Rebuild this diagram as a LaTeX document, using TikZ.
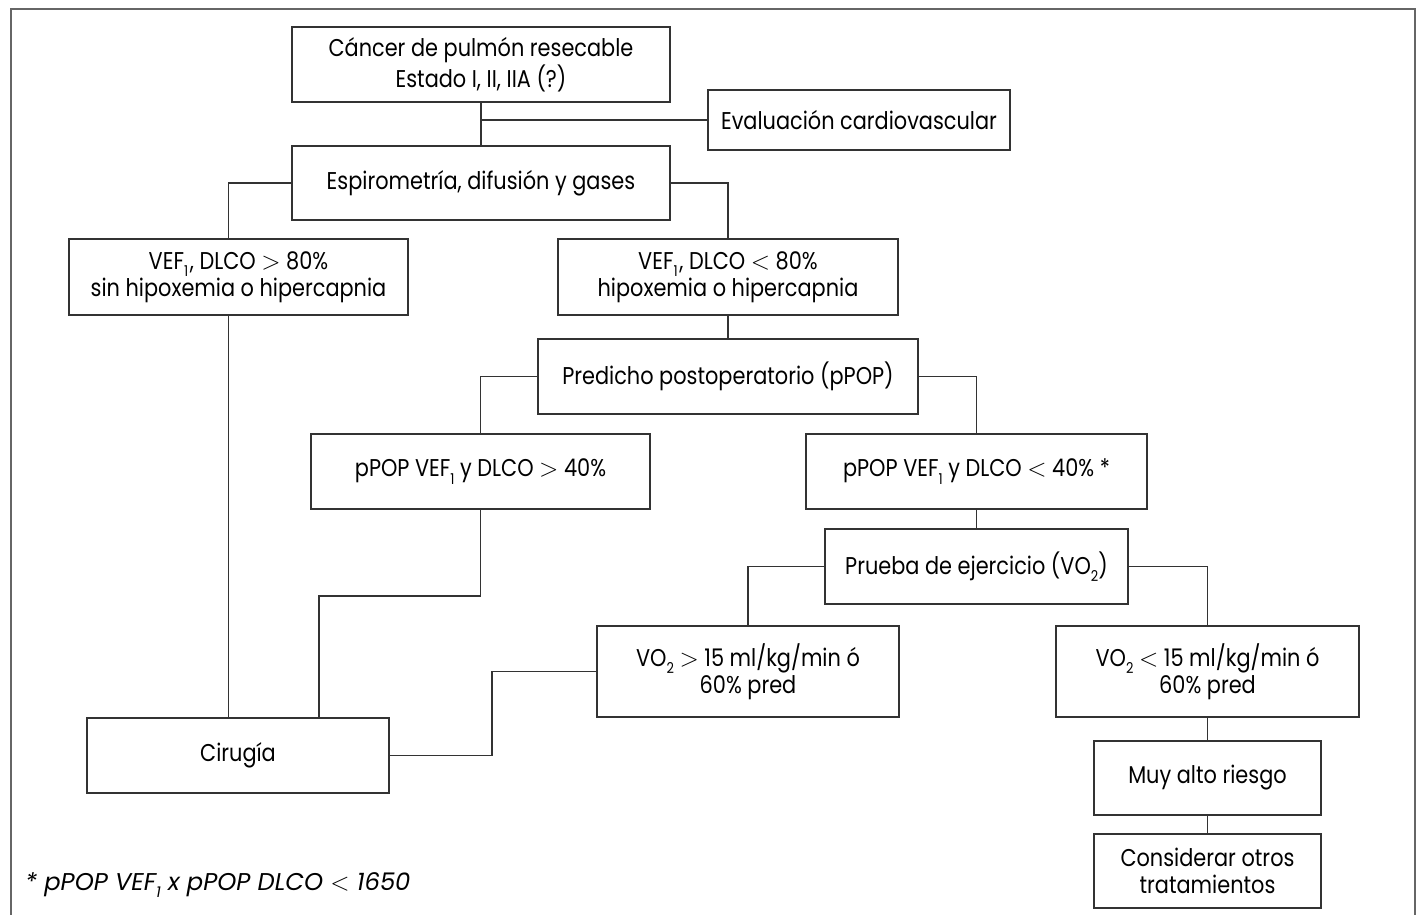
\documentclass[tikz,border=0pt]{standalone}
\usepackage{fontspec}
\setmainfont{Poppins}[FakeStretch=0.86]
\newfontfamily\notafont{Poppins}
\newcommand{\bajo}[1]{\raisebox{-0.55ex}{\fontsize{8.5}{8.5}\selectfont #1}}

\begin{document}
\begin{tikzpicture}[x=0.02cm,y=-0.02cm]
      \tikzstyle{caja}=[draw=black!80,line width=0.8pt,align=center,inner sep=0pt,
        font=\fontsize{13.8}{15.4}\selectfont]
      \tikzstyle{linea}=[draw=black!80,line width=0.8pt]
      \useasboundingbox (0,0) rectangle (1418,914);
      \draw[black!60,line width=0.9pt] (11,930) -- (11,9) -- (1415,9) -- (1415,930);
      \node[caja,minimum width=7.56cm,minimum height=1.5cm] (cancer) at (481,64.5) {C\'ancer de pulm\'on resecable\\Estado I, II, IIA (?)};
      \node[caja,minimum width=6.04cm,minimum height=1.2cm] (evalcv) at (859,120) {Evaluaci\'on cardiovascular};
      \node[caja,minimum width=7.56cm,minimum height=1.48cm] (espiro) at (481,183) {Espirometr\'ia, difusi\'on y gases};
      \node[caja,minimum width=6.78cm,minimum height=1.52cm] (vefalto) at (238.5,277) {VEF\bajo{1}\kern1pt, DLCO $>$ 80\%\\sin hipoxemia o hipercapnia};
      \node[caja,minimum width=6.8cm,minimum height=1.52cm] (vefbajo) at (728,277) {VEF\bajo{1}\kern1pt, DLCO $<$ 80\%\\hipoxemia o hipercapnia};
      \node[caja,minimum width=7.6cm,minimum height=1.5cm] (predicho) at (728,376.5) {Predicho postoperatorio (pPOP)};
      \node[caja,minimum width=6.78cm,minimum height=1.5cm] (ppopalto) at (480.5,471.5) {pPOP VEF\bajo{1} y DLCO $>$ 40\%};
      \node[caja,minimum width=6.82cm,minimum height=1.5cm] (ppopbajo) at (976.5,471.5) {pPOP VEF\bajo{1} y DLCO $<$ 40\% *};
      \node[caja,minimum width=6.06cm,minimum height=1.5cm] (prueba) at (976.5,566.5) {Prueba de ejercicio (VO\bajo{2})};
      \node[caja,minimum width=6.04cm,minimum height=1.82cm] (vodosalto) at (748,671.5) {VO\bajo{2} $>$ 15 ml/kg/min \'o\\60\% pred};
      \node[caja,minimum width=6.06cm,minimum height=1.82cm] (vodosbajo) at (1207.5,671.5) {VO\bajo{2} $<$ 15 ml/kg/min \'o\\60\% pred};
      \node[caja,minimum width=6.04cm,minimum height=1.5cm] (cirugia) at (238,755.5) {Cirug\'ia};
      \node[caja,minimum width=4.54cm,minimum height=1.48cm] (riesgo) at (1207.5,778) {Muy alto riesgo};
      \node[caja,minimum width=4.54cm,minimum height=1.48cm] (otros) at (1207.5,871) {Considerar otros\\tratamientos};
      \node[anchor=west,inner sep=0pt,font=\notafont\fontsize{13.8}{16}\selectfont\itshape] (nota) at (25,885) {* pPOP VEF\bajo{1} x pPOP DLCO $<$ 1650};
      \coordinate (codoa) at (480.5,596);
      \coordinate (codob) at (492,714);
      \draw[linea] (cancer) -- (espiro);
      \draw[linea] (cancer.south |- evalcv.west) -- (evalcv.west);
      \draw[linea] (espiro.west) -| ([xshift=-2mm]vefalto.north);
      \draw[linea] (espiro.east) -| (vefbajo.north);
      \draw[linea] ([xshift=-2mm]vefalto.south) -- ([xshift=-2mm]vefalto.south |- cirugia.north);
      \draw[linea] (vefbajo) -- (predicho);
      \draw[linea] (predicho.west) -| (ppopalto.north);
      \draw[linea] (predicho.east) -| (ppopbajo.north);
      \draw[linea] (ppopalto.south) -- (codoa) -| ([xshift=1.62cm]cirugia.north);
      \draw[linea] (ppopbajo) -- (prueba);
      \draw[linea] (prueba.west) -| (vodosalto.north);
      \draw[linea] (prueba.east) -| (vodosbajo.north);
      \draw[linea] (cirugia.east) -| (codob) |- (vodosalto.west);
      \draw[linea] (vodosbajo) -- (riesgo);
      \draw[linea] (riesgo) -- (otros);
    \end{tikzpicture}
\end{document}
